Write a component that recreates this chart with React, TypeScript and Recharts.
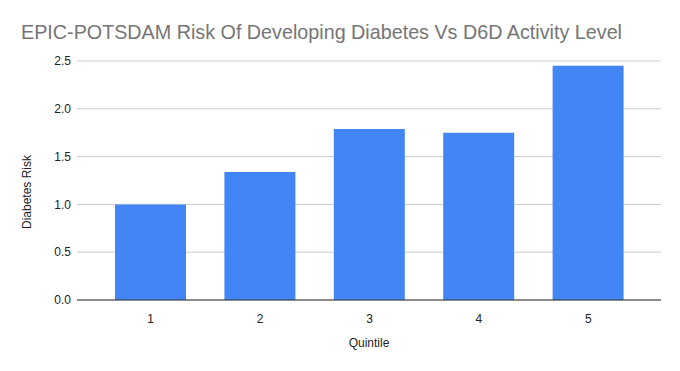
import { BarChart, Bar, XAxis, YAxis, CartesianGrid } from 'recharts'

const quintiles = ['1', '2', '3', '4', '5']
const diabetesRisk = [1.0, 1.34, 1.79, 1.75, 2.45]
const yTicks = [0, 0.5, 1.0, 1.5, 2.0, 2.5]

const data = quintiles.map((q, i) => ({ quintile: q, risk: diabetesRisk[i] }))

const LABEL_FONT = '"Liberation Sans", Arial, sans-serif'

export default function App() {
  return (
    <div style={{ position: 'absolute', left: 0, top: 0, width: 680, height: 371, background: '#fff' }}>
      <BarChart
        width={680}
        height={371}
        data={data}
        margin={{ top: 61, right: 19, bottom: 41, left: 0 }}
        barSize={71}
      >
        <CartesianGrid vertical={false} stroke="#cccccc" />
        <XAxis
          dataKey="quintile"
          height={30}
          padding={{ left: 19, right: 18 }}
          tickLine={false}
          axisLine={{ stroke: '#333333' }}
          tick={{ fill: '#222222', fontSize: 12, fontFamily: LABEL_FONT }}
          tickMargin={8}
        />
        <YAxis
          width={77}
          domain={[0, 2.5]}
          ticks={yTicks}
          tickFormatter={(v: number) => v.toFixed(1)}
          axisLine={false}
          tickLine={false}
          tickSize={0}
          tickMargin={6}
          tick={{ fill: '#222222', fontSize: 12, fontFamily: LABEL_FONT }}
        />
        <Bar dataKey="risk" fill="#4285f4" isAnimationActive={false} />
        <text
          x={21}
          y={39}
          fill="#757575"
          fontSize={21}
          fontFamily={LABEL_FONT}
          textLength={601}
          lengthAdjust="spacingAndGlyphs"
        >
          EPIC-POTSDAM Risk Of Developing Diabetes Vs D6D Activity Level
        </text>
        <text
          x={369}
          y={347}
          textAnchor="middle"
          fill="#222222"
          fontSize={12}
          fontFamily={LABEL_FONT}
        >
          Quintile
        </text>
        <text
          x={31}
          y={192}
          transform="rotate(-90 31 192)"
          textAnchor="middle"
          fill="#222222"
          fontSize={12}
          fontFamily={LABEL_FONT}
        >
          Diabetes Risk
        </text>
      </BarChart>
    </div>
  )
}
